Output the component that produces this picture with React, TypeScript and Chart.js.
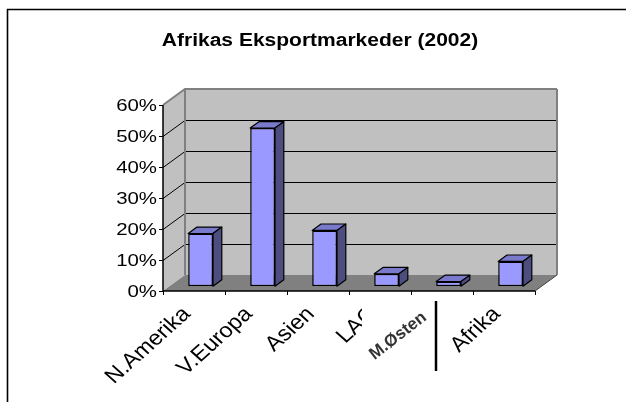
import React, { useEffect, useRef } from "react";
import { Chart, registerables } from "chart.js";

Chart.register(...registerables);

const TITLE = "Afrikas Eksportmarkeder (2002)";
const categories = ["N.Amerika", "V.Europa", "Asien", "LAC", "M.Østen", "Afrika"];
const shares = [17, 51, 18, 4, 1.5, 8];
const yTicks = [0, 10, 20, 30, 40, 50, 60];
const PATCH_INDEX = 4; // this label is a pasted image patch in the original

const DX = 22;
const DY = -16;
const FRONT = 0.3;
const BACK = 0.7;
const FONT = '"Liberation Sans", Arial, sans-serif';
const SX = 1.2;

const threeD = {
  id: "threeD",
  beforeDraw(chart: any) {
    const ctx = chart.ctx;
    ctx.save();
    ctx.fillStyle = "#ffffff";
    ctx.fillRect(0, 0, chart.width, chart.height);
    ctx.strokeStyle = "#000";
    ctx.lineWidth = 1.6;
    ctx.beginPath();
    ctx.moveTo(7.5, chart.height);
    ctx.lineTo(7.5, 9.5);
    ctx.lineTo(chart.width, 9.5);
    ctx.stroke();
    ctx.fillStyle = "#000";
    ctx.font = `bold 17.5px ${FONT}`;
    ctx.textAlign = "center";
    ctx.textBaseline = "middle";
    ctx.translate(320, 41);
    ctx.scale(SX, 1);
    ctx.fillText(TITLE, 0, 0);
    ctx.restore();
  },
  beforeDatasetsDraw(chart: any) {
    const ctx = chart.ctx;
    const xs = chart.scales.x;
    const ys = chart.scales.y;
    const L = xs.left;
    const R = xs.right;
    const T = ys.getPixelForValue(yTicks[yTicks.length - 1]);
    const B = ys.getPixelForValue(0);
    ctx.save();
    ctx.fillStyle = "#c0c0c0";
    ctx.beginPath();
    ctx.moveTo(L, T);
    ctx.lineTo(L + DX, T + DY);
    ctx.lineTo(L + DX, B + DY);
    ctx.lineTo(L, B);
    ctx.closePath();
    ctx.fill();
    ctx.fillRect(L + DX, T + DY, R - L, B - T);
    ctx.fillStyle = "#808080";
    ctx.beginPath();
    ctx.moveTo(L, B);
    ctx.lineTo(R, B);
    ctx.lineTo(R + DX, B + DY);
    ctx.lineTo(L + DX, B + DY);
    ctx.closePath();
    ctx.fill();
    ctx.strokeStyle = "#000";
    ctx.lineWidth = 1;
    for (const v of yTicks) {
      if (v === 0 || v === yTicks[yTicks.length - 1]) continue;
      const y = Math.round(ys.getPixelForValue(v)) + 0.5;
      ctx.beginPath();
      ctx.moveTo(L, y);
      ctx.lineTo(L + DX, y + DY);
      ctx.lineTo(R + DX, y + DY);
      ctx.stroke();
    }
    ctx.strokeStyle = "#808080";
    ctx.lineWidth = 2;
    ctx.beginPath();
    ctx.moveTo(L, T);
    ctx.lineTo(L + DX, T + DY);
    ctx.lineTo(R + DX, T + DY);
    ctx.moveTo(L + DX, T + DY);
    ctx.lineTo(L + DX, B + DY);
    ctx.moveTo(R + DX, T + DY);
    ctx.lineTo(R + DX, B + DY);
    ctx.stroke();
    ctx.strokeStyle = "#404040";
    ctx.lineWidth = 1;
    ctx.beginPath();
    ctx.moveTo(R, B);
    ctx.lineTo(R + DX, B + DY);
    ctx.stroke();
    ctx.strokeStyle = "#000";
    ctx.lineWidth = 1.5;
    ctx.beginPath();
    ctx.moveTo(L, T);
    ctx.lineTo(L, B);
    ctx.lineTo(R, B);
    ctx.stroke();
    ctx.lineWidth = 1;
    for (const v of yTicks) {
      const y = Math.round(ys.getPixelForValue(v)) + 0.5;
      ctx.beginPath();
      ctx.moveTo(L - 4, y);
      ctx.lineTo(L, y);
      ctx.stroke();
    }
    const step = (R - L) / categories.length;
    for (let i = 0; i <= categories.length; i++) {
      const x = Math.round(L + i * step) + 0.5;
      ctx.beginPath();
      ctx.moveTo(x, B);
      ctx.lineTo(x, B + 4);
      ctx.stroke();
    }
    ctx.fillStyle = "#000";
    ctx.font = `17px ${FONT}`;
    ctx.textAlign = "right";
    ctx.textBaseline = "middle";
    for (const v of yTicks) {
      const y = ys.getPixelForValue(v);
      ctx.save();
      ctx.translate(L - 6, y + 1);
      ctx.scale(SX, 1);
      ctx.fillText(`${v}%`, 0, 0);
      ctx.restore();
    }
    ctx.font = `21px ${FONT}`;
    ctx.textAlign = "right";
    ctx.textBaseline = "middle";
    categories.forEach((c, i) => {
      if (i === PATCH_INDEX) return;
      const x = xs.getPixelForValue(i);
      ctx.save();
      ctx.translate(x - 7, B + 20);
      ctx.scale(1.12, 1);
      ctx.rotate(-Math.PI / 4);
      ctx.fillText(c, 0, 0);
      ctx.restore();
    });
    const px = xs.getPixelForValue(PATCH_INDEX);
    ctx.fillStyle = "#ffffff";
    ctx.fillRect(px - 80, B + 10, 73, 69);
    ctx.strokeStyle = "#000";
    ctx.lineWidth = 2.5;
    ctx.beginPath();
    ctx.moveTo(px - 6, B + 10);
    ctx.lineTo(px - 6, B + 80);
    ctx.stroke();
    ctx.save();
    ctx.fillStyle = "#333";
    ctx.font = `bold 17px ${FONT}`;
    ctx.textAlign = "center";
    ctx.textBaseline = "middle";
    ctx.translate(px - 44, B + 45);
    ctx.rotate((-38 * Math.PI) / 180);
    ctx.fillText(categories[PATCH_INDEX], 0, 0);
    ctx.restore();
    ctx.restore();
    ctx.save();
    ctx.translate(DX * FRONT, DY * FRONT);
  },
  afterDatasetsDraw(chart: any) {
    const ctx = chart.ctx;
    ctx.restore();
    const meta = chart.getDatasetMeta(0);
    const ox = DX * FRONT;
    const oy = DY * FRONT;
    const bx = DX * (BACK - FRONT);
    const by = DY * (BACK - FRONT);
    ctx.save();
    ctx.strokeStyle = "#000";
    ctx.lineWidth = 1.2;
    ctx.lineJoin = "round";
    meta.data.forEach((el: any) => {
      const p = el.getProps(["x", "y", "base", "width"], true);
      const xl = p.x - p.width / 2 + ox;
      const xr = p.x + p.width / 2 + ox;
      const yt = p.y + oy;
      const yb = p.base + oy;
      ctx.fillStyle = "#7a7acc";
      ctx.beginPath();
      ctx.moveTo(xl, yt);
      ctx.lineTo(xl + bx, yt + by);
      ctx.lineTo(xr + bx, yt + by);
      ctx.lineTo(xr, yt);
      ctx.closePath();
      ctx.fill();
      ctx.stroke();
      ctx.fillStyle = "#4d4d80";
      ctx.beginPath();
      ctx.moveTo(xr, yt);
      ctx.lineTo(xr + bx, yt + by);
      ctx.lineTo(xr + bx, yb + by);
      ctx.lineTo(xr, yb);
      ctx.closePath();
      ctx.fill();
      ctx.stroke();
    });
    ctx.restore();
  },
};

export default function App() {
  const ref = useRef<HTMLCanvasElement | null>(null);
  useEffect(() => {
    if (!ref.current) return;
    const chart = new Chart(ref.current, {
      type: "bar",
      data: {
        labels: categories,
        datasets: [
          {
            data: shares,
            backgroundColor: "#9999ff",
            borderColor: "#000000",
            borderWidth: 1.5,
            borderSkipped: false,
            categoryPercentage: 1,
            barPercentage: 0.4,
          },
        ],
      },
      options: {
        animation: false,
        responsive: false,
        devicePixelRatio: 1,
        layout: { padding: { left: 163, right: 91, top: 105, bottom: 111 } },
        plugins: {
          legend: { display: false },
          tooltip: { enabled: false },
          title: { display: false },
        },
        scales: {
          x: { display: false, offset: true },
          y: { display: false, min: 0, max: 60 },
        },
      },
      plugins: [threeD],
    });
    return () => chart.destroy();
  }, []);
  return (
    <div style={{ position: "fixed", left: 0, top: 0, width: 626, height: 402, background: "#fff" }}>
      <canvas ref={ref} width={626} height={402} style={{ display: "block" }} />
    </div>
  );
}
